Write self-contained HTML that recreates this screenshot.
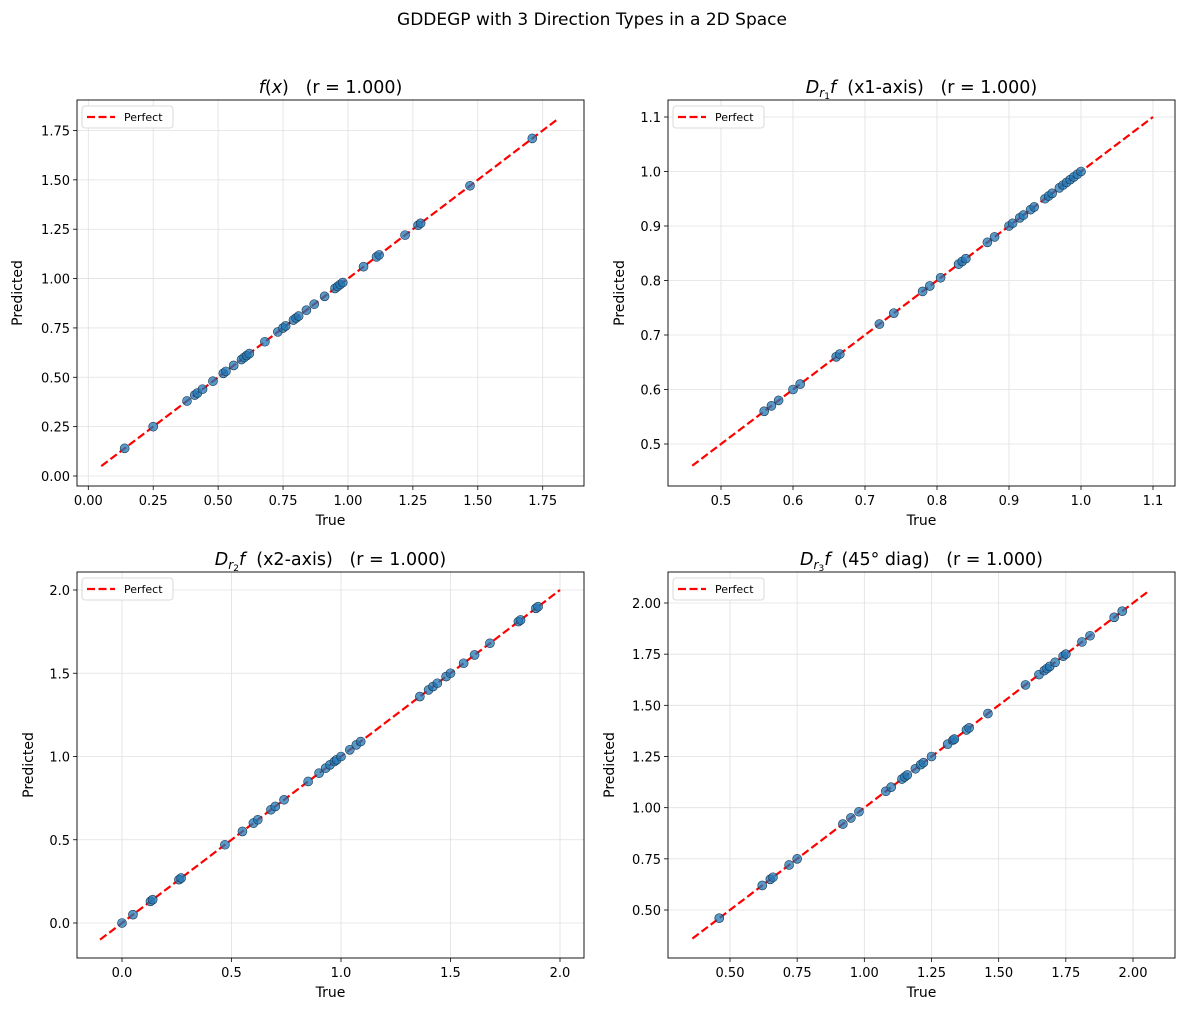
<!DOCTYPE html>
<html><head><meta charset="utf-8"><style>
body{margin:0;background:#fff}
svg text{font-family:"DejaVu Sans","Liberation Sans",sans-serif;fill:#000;white-space:pre}
</style></head><body>
<svg id="fig" width="1184" height="1012" xmlns="http://www.w3.org/2000/svg">
<text x="592" y="25" font-size="17" text-anchor="middle">GDDEGP with 3 Direction Types in a 2D Space</text>
</svg>
<script>
const p1True=[0.14,0.25,0.38,0.41,0.42,0.44,0.48,0.52,0.53,0.56,0.59,0.60,0.61,0.62,0.68,0.73,0.75,0.76,0.79,0.80,0.81,0.84,0.87,0.91,0.95,0.96,0.97,0.98,1.06,1.11,1.12,1.22,1.27,1.28,1.47,1.71];
const p1Pred=p1True.slice();
const p2True=[0.56,0.57,0.58,0.60,0.61,0.66,0.665,0.72,0.74,0.78,0.79,0.805,0.83,0.835,0.84,0.87,0.88,0.90,0.905,0.915,0.92,0.93,0.935,0.95,0.955,0.96,0.97,0.975,0.98,0.985,0.99,0.995,1.0];
const p2Pred=p2True.slice();
const p3True=[0.0,0.05,0.13,0.14,0.26,0.27,0.47,0.55,0.60,0.62,0.68,0.70,0.74,0.85,0.90,0.93,0.95,0.97,0.98,1.00,1.04,1.07,1.09,1.36,1.40,1.42,1.44,1.48,1.50,1.56,1.61,1.68,1.81,1.82,1.89,1.90];
const p3Pred=p3True.slice();
const p4True=[0.46,0.62,0.65,0.66,0.72,0.75,0.92,0.95,0.98,1.08,1.10,1.14,1.15,1.16,1.19,1.21,1.22,1.25,1.31,1.33,1.335,1.38,1.39,1.46,1.60,1.65,1.67,1.68,1.69,1.71,1.74,1.75,1.81,1.84,1.93,1.96];
const p4Pred=p4True.slice();
const p1Ticks=["0.00","0.25","0.50","0.75","1.00","1.25","1.50","1.75"];
const p2Ticks=["0.5","0.6","0.7","0.8","0.9","1.0","1.1"];
const p3Ticks=["0.0","0.5","1.0","1.5","2.0"];
const p4Ticks=["0.50","0.75","1.00","1.25","1.50","1.75","2.00"];
const p1Line=[0.05,1.81], p2Line=[0.46,1.10], p3Line=[-0.1,2.0], p4Line=[0.36,2.06];

const NS="http://www.w3.org/2000/svg";
const svg=document.getElementById('fig');
function mk(tag,attrs,parent){const e=document.createElementNS(NS,tag);for(const k in attrs)e.setAttribute(k,attrs[k]);(parent||svg).appendChild(e);return e;}

const panels=[
 {id:'fx',L:77,R:584,T:100,B:486,xa:[0,88.3,1.75,542.7],ya:[0,476,1.75,130.5],ticks:p1Ticks,tx:p1True,py:p1Pred,line:p1Line,ylx:22,title:[['f','i'],['(','n'],['x','i'],[')   (r = 1.000)','n']]},
 {id:'dr1',L:668,R:1175,T:100,B:486,xa:[0.5,721,1.1,1153],ya:[0.5,444,1.1,117],ticks:p2Ticks,tx:p2True,py:p2Pred,line:p2Line,ylx:624,title:[['D','i'],['r','sub'],['1','subsub'],['f','i'],['  (x1-axis)   (r = 1.000)','n']]},
 {id:'dr2',L:77,R:584,T:572,B:958,xa:[0,122,2,560],ya:[0,923,2,590],ticks:p3Ticks,tx:p3True,py:p3Pred,line:p3Line,ylx:33,title:[['D','i'],['r','sub'],['2','subsub'],['f','i'],['  (x2-axis)   (r = 1.000)','n']]},
 {id:'dr3',L:668,R:1175,T:572,B:958,xa:[0.5,730,2,1133],ya:[0.5,910,2,603],ticks:p4Ticks,tx:p4True,py:p4Pred,line:p4Line,ylx:614,title:[['D','i'],['r','sub'],['3','subsub'],['f','i'],['  (45° diag)   (r = 1.000)','n']]}
];
panels.forEach(p=>{
 const sx=v=>p.xa[1]+(v-p.xa[0])*(p.xa[3]-p.xa[1])/(p.xa[2]-p.xa[0]);
 const sy=v=>p.ya[1]+(v-p.ya[0])*(p.ya[3]-p.ya[1])/(p.ya[2]-p.ya[0]);
 const g=mk('g',{});
 
 
 p.ticks.forEach(t=>{
  const v=parseFloat(t);const x=sx(v),y=sy(v);
  const gx=mk('line',{x1:x,x2:x,y1:p.T,y2:p.B,stroke:'#e0e0e0','stroke-width':0.8},g);
  
  
  const gy=mk('line',{x1:p.L,x2:p.R,y1:y,y2:y,stroke:'#e0e0e0','stroke-width':0.8},g);
  
  
  mk('line',{x1:x,x2:x,y1:p.B,y2:p.B+4,stroke:'#000','stroke-width':0.8},g);
  mk('line',{x1:p.L-4,x2:p.L,y1:y,y2:y,stroke:'#000','stroke-width':0.8},g);
  const xt=mk('text',{x:x,y:p.B+19,'font-size':13,'text-anchor':'middle'},g);xt.textContent=t;
  
  
  const yt=mk('text',{x:p.L-7,y:y+5,'font-size':13,'text-anchor':'end'},g);yt.textContent=t;
  
  
 });
 const ln=mk('line',{x1:sx(p.line[0]),y1:sy(p.line[0]),x2:sx(p.line[1]),y2:sy(p.line[1]),stroke:'#ff0000','stroke-width':2.2,'stroke-dasharray':'8,3.5'},g);
 
 
 p.tx.forEach((v,i)=>{
  const c=mk('circle',{cx:sx(v),cy:sy(p.py[i]),r:4.5,fill:'#1f77b4','fill-opacity':0.75,stroke:'#1a3550','stroke-width':0.6},g);
  
  
 });
 mk('rect',{x:p.L,y:p.T,width:p.R-p.L,height:p.B-p.T,fill:'none',stroke:'#000','stroke-width':0.9},g);
 const lg=mk('g',{},g);
 
 
 mk('rect',{x:p.L+5,y:p.T+6,width:91,height:22,rx:3,fill:'#fff',stroke:'#d0d0d0','stroke-width':0.8},lg);
 mk('line',{x1:p.L+10,x2:p.L+38,y1:p.T+17,y2:p.T+17,stroke:'#ff0000','stroke-width':2.2,'stroke-dasharray':'8,3.5'},lg);
 const lt=mk('text',{x:p.L+47,y:p.T+21,'font-size':11},lg);lt.textContent='Perfect';
 const xl=mk('text',{x:(p.L+p.R)/2,y:p.B+39,'font-size':14,'text-anchor':'middle'},g);xl.textContent='True';
 
 
 const cy=(p.T+p.B)/2;
 const yl=mk('text',{x:p.ylx,y:cy,'font-size':14,'text-anchor':'middle',transform:`rotate(-90 ${p.ylx} ${cy})`},g);yl.textContent='Predicted';
 
 
 const tt=mk('text',{x:(p.L+p.R)/2,y:p.T-7,'font-size':17.5,'text-anchor':'middle'},g);
 
 
 p.title.forEach(([s,k])=>{
  const ts=mk('tspan',{},tt);ts.textContent=s;
  if(k==='i')ts.setAttribute('font-style','italic');
  if(k==='sub'){ts.setAttribute('font-style','italic');ts.setAttribute('font-size','12');ts.setAttribute('dy','4');}
  if(k==='subsub'){ts.setAttribute('font-size','9');ts.setAttribute('dy','2');}
  if(k==='i'&&s==='f'&&tt.childNodes.length>2){ts.setAttribute('dy','-6');}
 });
});
</script>
</body></html>
